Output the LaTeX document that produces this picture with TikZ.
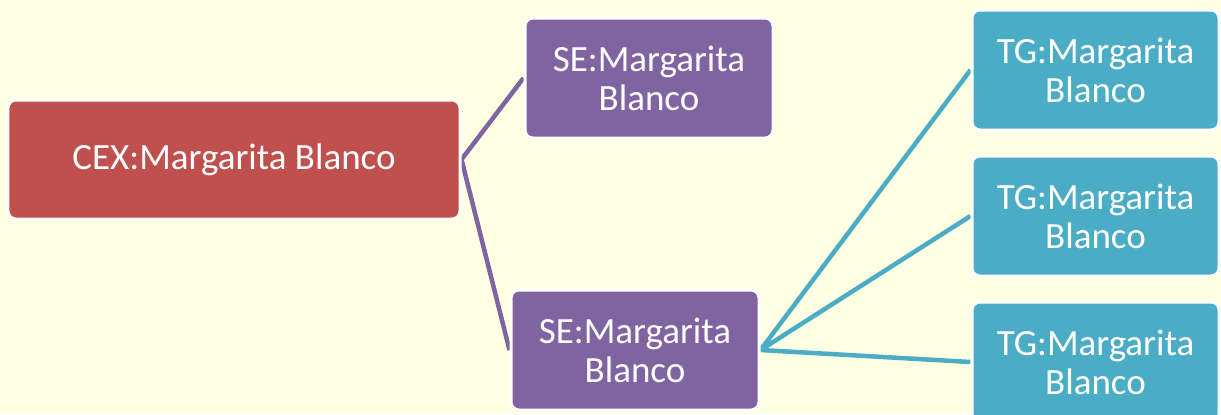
\documentclass[tikz,border=0pt]{standalone}
\usepackage{fontspec}
\setmainfont{Carlito}
\definecolor{paper}{HTML}{FFFFE4}
\definecolor{cexred}{HTML}{C0504D}
\definecolor{sepurple}{HTML}{8064A2}
\definecolor{tgcyan}{HTML}{4BACC6}
\pgfdeclarelayer{paperlayer}
\pgfdeclarelayer{links}
\pgfsetlayers{paperlayer,links,main}
\tikzset{
  orgbox/.style={draw=white,line width=3bp,rounded corners=8bp,text=white,
    align=center,inner sep=0pt,font=\fontsize{37bp}{39bp}\selectfont},
  cexbox/.style={orgbox,fill=cexred,minimum width=452bp,minimum height=119bp},
  sebox/.style={orgbox,fill=sepurple,minimum width=248bp,minimum height=120bp},
  tgbox/.style={orgbox,fill=tgcyan,minimum width=247bp,minimum height=120bp},
  selink/.style={draw=sepurple,line width=4.5bp},
  tglink/.style={draw=tgcyan,line width=4.5bp},
}
\begin{document}
\begin{tikzpicture}[x=1bp,y=-1bp]
\begin{pgfonlayer}{paperlayer}
  \fill[paper] (0,0) rectangle (1221,414);
\end{pgfonlayer}
\clip (0,0) rectangle (1221,414);
%%
\node (cex) at (234,159.5) [cexbox] {CEX:Margarita Blanco};
  \node (se_1) at (649,78) [sebox] {SE:Margarita\\Blanco};
  \node (se_2) at (635,350) [sebox] {SE:Margarita\\Blanco};
  \node (tg_1) at (1095.5,70) [tgbox] {TG:Margarita\\Blanco};
  \node (tg_2) at (1095.5,216) [tgbox] {TG:Margarita\\Blanco};
  \node (tg_3) at (1095.5,362) [tgbox] {TG:Margarita\\Blanco};
\begin{pgfonlayer}{links}
  \draw [selink] (cex.east) -- (se_1.west);
  \draw [selink] (cex.east) -- (se_2.west);
  \draw [tglink] (se_2.east) -- (tg_1.west);
  \draw [tglink] (se_2.east) -- (tg_2.west);
  \draw [tglink] (se_2.east) -- (tg_3.west);
\end{pgfonlayer}
%
\end{tikzpicture}
\end{document}
